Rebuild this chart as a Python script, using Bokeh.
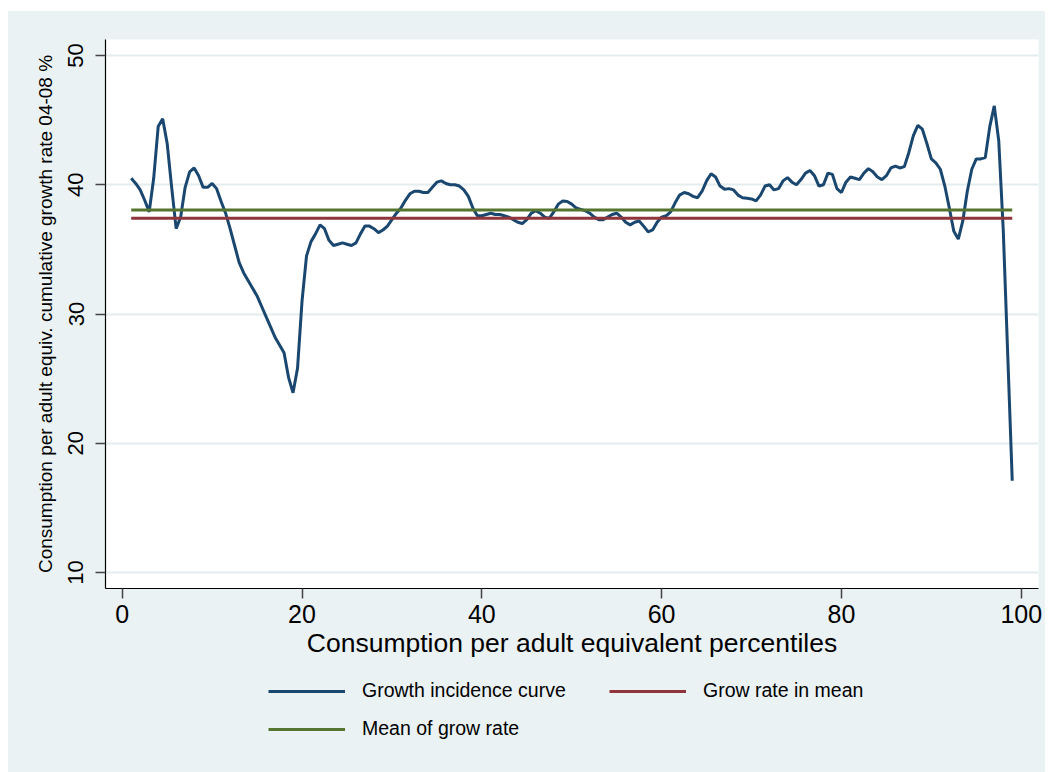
from bokeh.plotting import figure
from bokeh.models import Range1d, Legend, LegendItem, Spacer, FixedTicker
from bokeh.layouts import column, row
from bokeh.embed import file_html
from bokeh.resources import INLINE

# Growth incidence curve on a half-percentile grid, 1..99 (cumulative growth 2004-08, %)
percentiles = [1 + 0.5 * i for i in range(197)]
gic = [
    40.5, 40.1, 39.6, 38.8, 37.9, 40.5, 44.5, 45.1, 43.2, 39.8,   # 1 - 5.5
    36.6, 37.5, 39.8, 41.0, 41.3, 40.7, 39.8, 39.8, 40.1, 39.7,   # 6 - 10.5
    38.7, 37.8, 36.6, 35.3, 34.0, 33.2, 32.6, 32.0, 31.4, 30.6,   # 11 - 15.5
    29.8, 29.0, 28.2, 27.6, 27.0, 25.1, 23.9, 25.8, 31.0, 34.5,   # 16 - 20.5
    35.6, 36.2, 36.9, 36.6, 35.7, 35.3, 35.4, 35.5, 35.4, 35.3,   # 21 - 25.5
    35.5, 36.2, 36.8, 36.8, 36.6, 36.3, 36.5, 36.8, 37.3, 37.8,   # 26 - 30.5
    38.2, 38.8, 39.3, 39.5, 39.5, 39.4, 39.4, 39.8, 40.2, 40.3,   # 31 - 35.5
    40.1, 40.0, 40.0, 39.9, 39.6, 39.1, 38.2, 37.6, 37.6, 37.7,   # 36 - 40.5
    37.8, 37.7, 37.7, 37.6, 37.5, 37.3, 37.1, 37.0, 37.3, 37.8,   # 41 - 45.5
    38.0, 37.8, 37.5, 37.4, 37.9, 38.5, 38.75, 38.7, 38.5, 38.2,  # 46 - 50.5
    38.1, 38.0, 37.8, 37.5, 37.3, 37.3, 37.5, 37.7, 37.8, 37.5,   # 51 - 55.5
    37.1, 36.9, 37.1, 37.2, 36.8, 36.35, 36.5, 37.1, 37.5, 37.6,  # 56 - 60.5
    37.9, 38.6, 39.2, 39.4, 39.3, 39.1, 39.0, 39.5, 40.3, 40.85,  # 61 - 65.5
    40.6, 39.9, 39.65, 39.7, 39.6, 39.2, 39.0, 38.95, 38.9, 38.75,  # 66 - 70.5
    39.2, 39.9, 40.0, 39.6, 39.7, 40.3, 40.55, 40.2, 40.0, 40.4,  # 71 - 75.5
    40.9, 41.1, 40.7, 39.9, 40.0, 40.9, 40.8, 39.7, 39.4, 40.2,   # 76 - 80.5
    40.6, 40.5, 40.4, 40.9, 41.25, 41.0, 40.6, 40.4, 40.7, 41.3,  # 81 - 85.5
    41.45, 41.3, 41.4, 42.5, 43.8, 44.6, 44.3, 43.2, 42.0, 41.7,  # 86 - 90.5
    41.2, 39.9, 38.2, 36.4, 35.8, 37.2, 39.5, 41.2, 42.0, 42.0,   # 91 - 95.5
    42.1, 44.5, 46.1, 43.4, 36.5, 26.8, 17.1,                     # 96 - 99
]
grow_rate_in_mean = 37.4
mean_of_grow_rate = 38.05

x_ticks = [0, 20, 40, 60, 80, 100]
y_ticks = [10, 20, 30, 40, 50]

BG = "#eaf2f3"
NAVY = "#1a476f"
MAROON = "#90353b"
OLIVE = "#55752f"
FONT = "Liberation Sans"


def series_lines(fig):
    x0, x1 = percentiles[0], percentiles[-1]
    r1 = fig.line(percentiles, gic, line_color=NAVY, line_width=3)
    r2 = fig.line([x0, x1], [grow_rate_in_mean] * 2, line_color=MAROON, line_width=3)
    r3 = fig.line([x0, x1], [mean_of_grow_rate] * 2, line_color=OLIVE, line_width=3)
    return r1, r2, r3


p = figure(
    width=1037, height=654,
    x_range=Range1d(-1.86, 101.92), y_range=Range1d(8.76, 51.24),
    output_backend="svg", toolbar_location=None,
    min_border_left=97, min_border_right=7, min_border_top=28, min_border_bottom=77,
    background_fill_color="white", border_fill_color=BG,
)
p.outline_line_color = None
p.xgrid.grid_line_color = None
p.ygrid.grid_line_color = "#e3ecee"
p.ygrid.grid_line_width = 2

p.xaxis.ticker = FixedTicker(ticks=x_ticks)
p.yaxis.ticker = FixedTicker(ticks=y_ticks)
for ax in (p.xaxis[0], p.yaxis[0]):
    ax.axis_line_color = "black"
    ax.axis_line_width = 1.2
    ax.major_tick_line_color = "#444444"
    ax.major_tick_line_width = 1.5
    ax.major_tick_in = 0
    ax.major_tick_out = 10
    ax.minor_tick_line_color = None
    ax.major_label_text_font = FONT
    ax.axis_label_text_font = FONT
    ax.axis_label_text_font_style = "normal"
    ax.major_label_text_color = "black"
    ax.axis_label_text_color = "black"

p.xaxis.major_label_text_font_size = "25px"
p.xaxis.major_label_standoff = 6
p.xaxis.axis_label = "Consumption per adult equivalent percentiles"
p.xaxis.axis_label_text_font_size = "26.5px"
p.xaxis.axis_label_standoff = 2

p.yaxis.major_label_text_font_size = "22px"
p.yaxis.major_label_orientation = "vertical"
p.yaxis.major_label_standoff = 12
p.yaxis.axis_label = "Consumption per adult equiv. cumulative growth rate 04-08 %"
p.yaxis.axis_label_text_font_size = "19px"
p.yaxis.axis_label_standoff = 10

series_lines(p)

# Legend strip underneath the chart; its own view of the series stays off-screen
leg = figure(
    width=1037, height=107,
    x_range=Range1d(1000, 1001), y_range=Range1d(1000, 1001),
    output_backend="svg", toolbar_location=None,
    min_border=0, background_fill_color=BG, border_fill_color=BG,
)
leg.outline_line_color = None
leg.axis.visible = False
leg.grid.visible = False
k_gic, k_mean, k_mgr = series_lines(leg)

legend = Legend(
    items=[
        LegendItem(label="Growth incidence curve", renderers=[k_gic]),
        LegendItem(label="Grow rate in mean", renderers=[k_mean]),
        LegendItem(label="Mean of grow rate", renderers=[k_mgr]),
    ],
    location=(163, 32),
    orientation="horizontal", ncols=2,
    glyph_width=77, glyph_height=20, label_height=20, label_width=232,
    label_standoff=17, spacing=15, padding=0, margin=0,
    label_text_font=FONT, label_text_font_size="19.5px", label_text_color="black",
    background_fill_alpha=0, border_line_color=None,
)
leg.add_layout(legend, "center")

chart = column(p, leg, spacing=0, styles={"background-color": BG})
layout = column(Spacer(height=11), row(Spacer(width=8), chart))
open("out.html", "w").write(file_html(layout, INLINE))
